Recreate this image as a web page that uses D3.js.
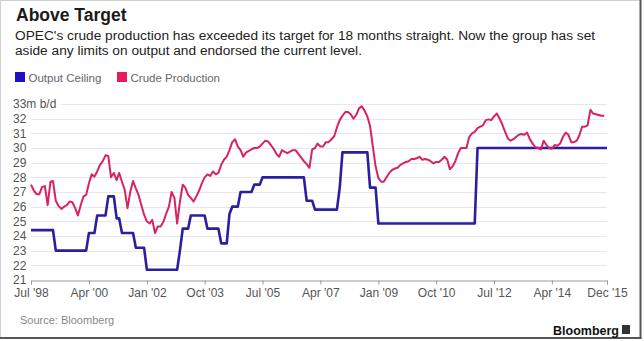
<!DOCTYPE html>
<html><head><meta charset="utf-8">
<script src="https://cdn.jsdelivr.net/npm/d3@7"></script>
<style>
body{margin:0;background:#fff;}
svg{display:block;font-family:"Liberation Sans",Arial,sans-serif;}
</style></head><body>
<svg id="chart" width="644" height="341"></svg>
<script>
const titleText = "Above Target";
const subtitleLines = [
  "OPEC's crude production has exceeded its target for 18 months straight. Now the group has set",
  "aside any limits on output and endorsed the current level."
];
const seriesNames = ["Output Ceiling", "Crude Production"];
const seriesColors = ["#2a1fa0", "#d8245e"];
const legendColors = ["#1c10c8", "#e81c5c"];
const yTicks = [21, 22, 23, 24, 25, 26, 27, 28, 29, 30, 31, 32, 33];
const yUnit = "m b/d";
const xTickDates = ["1998-07", "2000-04", "2002-01", "2003-10", "2005-07", "2007-04", "2009-01", "2010-10", "2012-07", "2014-04", "2015-12"];
const xTickLabels = ["Jul '98", "Apr '00", "Jan '02", "Oct '03", "Jul '05", "Apr '07", "Jan '09", "Oct '10", "Jul '12", "Apr '14", "Dec '15"];
const xDomain = ["1998-07", "2015-12"];

// OPEC output ceiling, million barrels a day (points where it changes)
const ceilingDates = [
  "1998-07", "1999-03", "1999-04", "2000-03", "2000-04", "2000-06", "2000-07", "2000-10", "2000-11",
  "2001-01", "2001-02", "2001-03", "2001-04", "2001-08", "2001-09", "2001-12", "2002-01", "2002-12",
  "2003-01", "2003-02", "2003-04", "2003-05", "2003-10", "2003-11", "2004-03", "2004-04", "2004-06",
  "2004-07", "2004-08", "2004-10", "2004-11", "2005-03", "2005-04", "2005-06", "2005-07", "2006-10",
  "2006-11", "2007-01", "2007-02", "2007-10", "2007-11", "2007-12", "2008-09", "2008-10", "2008-12",
  "2009-01", "2011-12", "2012-01", "2015-12"
];
const ceilingValues = [
  24.4, 24.4, 23.0, 23.0, 24.2, 24.2, 25.4, 25.4, 26.7,
  26.7, 25.2, 25.2, 24.2, 24.2, 23.2, 23.2, 21.7, 21.7,
  23.0, 24.5, 24.5, 25.4, 25.4, 24.5, 24.5, 23.5, 23.5,
  25.5, 26.0, 26.0, 27.0, 27.0, 27.5, 27.5, 28.0, 28.0,
  26.4, 26.4, 25.8, 25.8, 27.3, 29.7, 29.7, 27.3, 27.3,
  24.85, 24.85, 30.0, 30.0
];

// OPEC crude production, monthly from Jul 1998, million barrels a day
const productionStart = "1998-07";
const productionValues = [
  27.5, 27.1, 26.85, 26.85, 27.35, 27.4, 26.1, 27.7, 27.75, 26.4,
  26.05, 25.85, 26.0, 26.1, 26.35, 26.3, 25.9, 25.4, 26.1, 26.7,
  26.8, 27.6, 28.2, 28.05, 28.4, 28.85, 29.1, 29.5, 29.45, 28.0,
  28.3, 27.8, 28.3, 27.7, 27.15, 25.9, 27.0, 27.75, 27.25, 26.8,
  26.1, 25.45, 25.0, 24.85, 25.1, 24.2, 24.65, 24.65, 24.95, 25.5,
  26.0, 27.0, 26.6, 24.85, 26.35, 27.5, 27.3, 26.8, 26.6, 26.35,
  26.7, 27.1, 27.6, 28.0, 28.2, 28.1, 28.4, 28.2, 28.3, 28.85,
  29.2, 29.4, 29.85, 30.4, 30.6, 30.1, 29.85, 29.4, 29.7, 29.8,
  29.9, 30.0, 30.0, 30.1, 30.3, 30.5, 30.45, 30.2, 29.95, 29.6,
  29.4, 29.85, 29.75, 29.65, 29.75, 29.85, 29.85, 29.6, 29.35, 29.1,
  28.9, 28.65, 29.9, 30.0, 30.3, 30.1, 30.1, 30.4, 30.4, 30.6,
  30.8, 31.4, 31.9, 32.2, 32.45, 32.45, 32.3, 32.0, 32.25, 32.7,
  32.85, 32.55, 32.15, 31.5, 30.1, 28.75, 27.95, 27.7, 27.7, 28.0,
  28.3, 28.5, 28.6, 28.65, 28.85, 28.95, 29.05, 29.1, 29.25, 29.25,
  29.3, 29.4, 29.2, 29.25, 29.2, 29.1, 28.95, 29.05, 29.05, 29.2,
  29.4, 29.2, 28.55, 28.75, 29.1, 29.65, 30.0, 30.0, 30.0, 30.75,
  31.0, 31.1, 31.35, 31.45, 31.55, 31.9, 31.95, 31.9, 32.15, 32.35,
  32.0, 31.6, 31.1, 30.65, 30.5, 30.6, 30.75, 30.9, 30.95, 30.9,
  31.05, 30.6, 30.3, 30.05, 30.0, 29.9, 30.5, 30.2, 30.0, 29.95,
  30.2, 30.15, 30.3, 30.75, 31.05, 30.9, 30.4, 30.4, 30.5, 30.9,
  31.45, 31.45, 31.55, 32.6, 32.35, 32.3, 32.25, 32.2, 32.2
];

const sourceText = "Source: Bloomberg";
const brandText = "Bloomberg";

const parseM = d3.timeParse("%Y-%m");
const svg = d3.select("#chart");
const plot = {left: 31, right: 607, top: 104, bottom: 280};

// frame
svg.append("rect").attr("x", 0.5).attr("y", 0.5).attr("width", 640).attr("height", 337)
  .attr("fill", "#fff").attr("stroke", "#d0d0d0");
svg.append("line").attr("x1", 640.5).attr("x2", 640.5).attr("y1", 0).attr("y2", 338.5).attr("stroke", "#555").attr("stroke-width", 2);
svg.append("line").attr("x1", 0).attr("x2", 641.5).attr("y1", 338).attr("y2", 338).attr("stroke", "#555").attr("stroke-width", 2);

// title & subtitle
svg.append("text").attr("x", 16).attr("y", 21).attr("font-size", 17.5).attr("font-weight", "bold")
  .attr("fill", "#1a1a1a").text(titleText);
subtitleLines.forEach((t, i) => {
  svg.append("text").attr("x", 15).attr("y", 40 + i * 14.5).attr("font-size", 13.7)
    .attr("fill", "#222").text(t);
});

// legend
const legendX = [15, 117];
seriesNames.forEach((n, i) => {
  const g = svg.append("g").attr("transform", `translate(${legendX[i]},72)`);
  g.append("rect").attr("width", 10).attr("height", 10).attr("fill", legendColors[i]);
  g.append("text").attr("x", 13.5).attr("y", 9.5).attr("font-size", 11.5).attr("fill", "#666").text(n);
});

// scales
const x = d3.scaleTime().domain(xDomain.map(parseM)).range([plot.left, plot.right]);
const y = d3.scaleLinear().domain([d3.min(yTicks), d3.max(yTicks)]).range([plot.bottom, plot.top]);

// y grid + labels
const yAxis = d3.axisLeft(y).tickValues(yTicks).tickSize(0)
  .tickFormat(d => d === d3.max(yTicks) ? d + yUnit : d);
const yg = svg.append("g").attr("transform", `translate(13,0)`).call(yAxis);
yg.select(".domain").remove();
yg.selectAll("text").attr("text-anchor", "start").attr("x", 0).attr("dy", "0.32em")
  .attr("font-size", 12).attr("font-family", "Liberation Sans, Arial, sans-serif").attr("fill", "#555");

const grid = svg.append("g");
yTicks.filter(t => t !== d3.min(yTicks)).forEach(t => {
  grid.append("line")
    .attr("x1", t === d3.max(yTicks) ? 61 : plot.left).attr("x2", plot.right)
    .attr("y1", Math.round(y(t)) + 0.5).attr("y2", Math.round(y(t)) + 0.5)
    .attr("stroke", "#e8e8e8").attr("stroke-width", 1);
});

// x axis
const xAxis = d3.axisBottom(x).tickValues(xTickDates.map(parseM)).tickSize(4).tickPadding(4)
  .tickFormat((d, i) => xTickLabels[i]);
const xg = svg.append("g").attr("transform", `translate(0,${plot.bottom + 0.5})`).call(xAxis);
xg.select(".domain").attr("stroke", "#9a9a9a");
xg.selectAll(".tick line").attr("stroke", "#9a9a9a");
xg.selectAll("text").attr("font-size", 12).attr("font-family", "Liberation Sans, Arial, sans-serif")
  .attr("fill", "#555");

// lines
const ceilingData = ceilingDates.map((d, i) => ({date: parseM(d), value: ceilingValues[i]}));
const start = parseM(productionStart);
const productionData = productionValues.map((v, i) => ({date: d3.timeMonth.offset(start, i), value: v}));
const line = d3.line().x(d => x(d.date)).y(d => y(d.value));

svg.append("path").datum(ceilingData).attr("d", line).attr("fill", "none")
  .attr("stroke", seriesColors[0]).attr("stroke-width", 2.6).attr("stroke-linejoin", "round");
svg.append("path").datum(productionData).attr("d", line).attr("fill", "none")
  .attr("stroke", seriesColors[1]).attr("stroke-width", 2).attr("stroke-linejoin", "round");

// footer
svg.append("text").attr("x", 20).attr("y", 324).attr("font-size", 11).attr("fill", "#888").text(sourceText);
svg.append("text").attr("x", 619).attr("y", 335).attr("text-anchor", "end").attr("font-size", 12.5)
  .attr("font-weight", "bold").attr("fill", "#111").text(brandText);
svg.append("rect").attr("x", 622).attr("y", 325).attr("width", 8).attr("height", 9).attr("fill", "#333");
</script>
</body></html>
